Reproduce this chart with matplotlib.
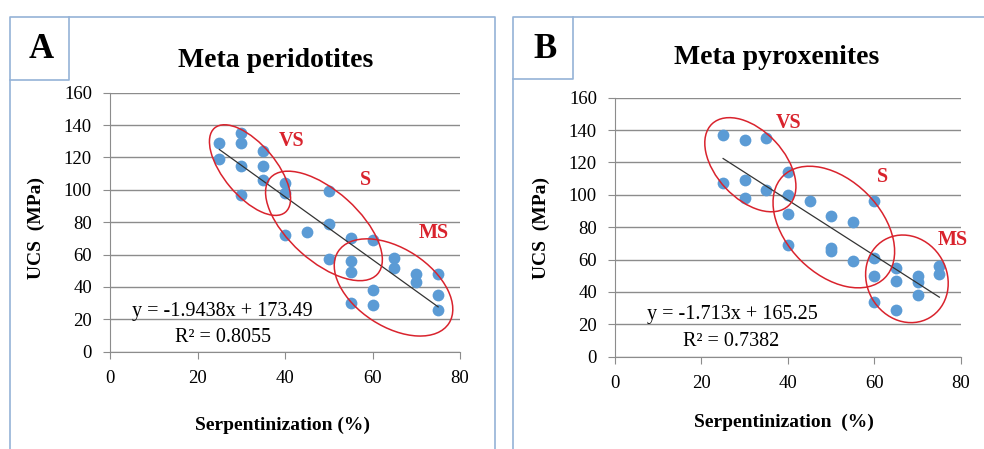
import numpy as np
import matplotlib
matplotlib.use('Agg')
import matplotlib.pyplot as plt
from matplotlib.patches import Ellipse
from matplotlib.lines import Line2D
from matplotlib.transforms import ScaledTranslation

plt.rcParams['font.family'] = ['Liberation Serif', 'DejaVu Serif']

## Data
# A: Meta peridotites
serp_a = [25, 25, 30, 30, 30, 30, 35, 35, 35, 40, 40, 40, 45,
          50, 50, 50, 55, 55, 55, 55, 60, 60, 60, 65, 65, 70, 70, 75, 75, 75]
ucs_a = [129, 119, 135, 129, 115, 97, 124, 115, 106, 104, 98, 72, 74,
         99, 79, 57, 70, 56, 49, 30, 69, 38, 29, 58, 52, 48, 43, 48, 35, 26]
slope_a, icept_a, r2_a = -1.9438, 173.49, 0.8055

# B: Meta pyroxenites
serp_b = [25, 25, 30, 30, 30, 35, 35, 40, 40, 40, 40, 45, 50, 50, 50,
          55, 55, 60, 60, 60, 60, 65, 65, 65, 70, 70, 70, 75, 75]
ucs_b = [137, 107, 134, 109, 98, 135, 103, 114, 100, 88, 69, 96, 87, 67, 65,
         83, 59, 96, 61, 50, 34, 55, 47, 29, 50, 46, 38, 56, 51]
slope_b, icept_b, r2_b = -1.713, 165.25, 0.7382

x_ticks = [0, 20, 40, 60, 80]
y_ticks = [0, 20, 40, 60, 80, 100, 120, 140, 160]

groups = ['VS', 'S', 'MS']

W, H = 984, 449
fig = plt.figure(figsize=(W / 100, H / 100), dpi=100)
fig.patch.set_facecolor('white')


def px(x, y):
    # pixel position (top-left origin) -> figure fraction
    return x / W, 1 - y / H


frame_col = '#95B3D7'
grid_col = '#8C8C8C'
dot_col = '#5B9BD5'
red = '#D9232D'

# panel frames
for pts in [[(10, 449), (10, 17), (495, 17), (495, 449)],
            [(10, 80), (69, 80), (69, 17)],
            [(513, 449), (513, 17), (984, 17)],
            [(513, 79), (573, 79), (573, 17)]]:
    xs, ys = zip(*[px(*p) for p in pts])
    fig.add_artist(Line2D(xs, ys, color=frame_col, lw=1.2))


def panel(rect, serp, ucs, slope, icept, r2, title, letter, title_xy, letter_xy,
          ell, lab, eq_xy, r2_xy, ylab_xy, xlab_xy, xlabel):
    ax = fig.add_axes(rect)
    ax.set_xlim(0, 80)
    ax.set_ylim(0, 160)
    ax.set_xticks(x_ticks)
    ax.set_yticks(y_ticks)
    ax.yaxis.grid(True, color=grid_col, lw=1)
    ax.set_axisbelow(True)
    for s in ['top', 'right']:
        ax.spines[s].set_visible(False)
    for s in ['left', 'bottom']:
        ax.spines[s].set_color(grid_col)
    ax.tick_params(direction='out', length=5, color=grid_col, labelsize=13.5, pad=8)
    ax.set_facecolor('none')

    ax.scatter(serp, ucs, s=72, color=dot_col, zorder=3, linewidths=0)
    xl = np.array([min(serp), max(serp)])
    ax.plot(xl, slope * xl + icept, color='#333333', lw=0.9, zorder=4)

    for (cx, cy, w, h, ang), name, (tx, ty) in zip(ell, groups, lab):
        tr = fig.dpi_scale_trans + ScaledTranslation(cx, cy, ax.transData)
        ax.add_patch(Ellipse((0, 0), w, h, angle=ang, transform=tr, fill=False,
                             edgecolor=red, lw=1.1, zorder=5, clip_on=False))
        ax.text(tx, ty, name, color=red, fontsize=14.5, fontweight='bold',
                ha='center', va='center')

    ax.text(eq_xy[0], eq_xy[1], 'y = %gx + %g' % (slope, icept), fontsize=14.5,
            ha='left', va='center', zorder=6)
    ax.text(r2_xy[0], r2_xy[1], 'R² = %.4f' % r2, fontsize=14.5,
            ha='left', va='center', zorder=6)

    ax.set_ylabel('UCS  (MPa)', fontsize=14, fontweight='bold')
    ax.yaxis.set_label_coords(*ylab_xy)
    ax.set_xlabel(xlabel, fontsize=14, fontweight='bold')
    ax.xaxis.set_label_coords(*xlab_xy)

    fig.text(*px(*title_xy), title, fontsize=20, fontweight='bold',
             ha='center', va='center')
    fig.text(*px(*letter_xy), letter, fontsize=25, fontweight='bold',
             ha='center', va='center')
    return ax


panel([0.1118, 0.2167, 0.3557, 0.5768], serp_a, ucs_a, slope_a, icept_a, r2_a,
      'Meta peridotites', 'A', (276, 60), (41, 50),
      [(32.0, 112.2, 1.10, 0.52, -50), (48.9, 77.7, 1.44, 0.70, -42),
       (64.8, 39.7, 1.32, 0.78, -33)],
      [(41.4, 130), (58.4, 106), (73.9, 73.3)],
      (5.0, 24.7), (14.9, 8.5), (-0.186, 0.478), (0.493, -0.250),
      'Serpentinization (%)')

panel([0.625, 0.2056, 0.3516, 0.5768], serp_b, ucs_b, slope_b, icept_b, r2_b,
      'Meta pyroxenites', 'B', (777, 57), (545, 50),
      [(31.3, 118.6, 1.12, 0.68, -47), (50.6, 80.1, 1.44, 0.94, -45),
       (67.5, 48.1, 0.90, 0.80, -60)],
      [(40.1, 144.6), (61.9, 111.2), (78.2, 72.1)],
      (7.3, 25.8), (15.8, 9.3), (-0.188, 0.497), (0.488, -0.222),
      'Serpentinization  (%)')

fig.savefig('out.png', dpi=100)
